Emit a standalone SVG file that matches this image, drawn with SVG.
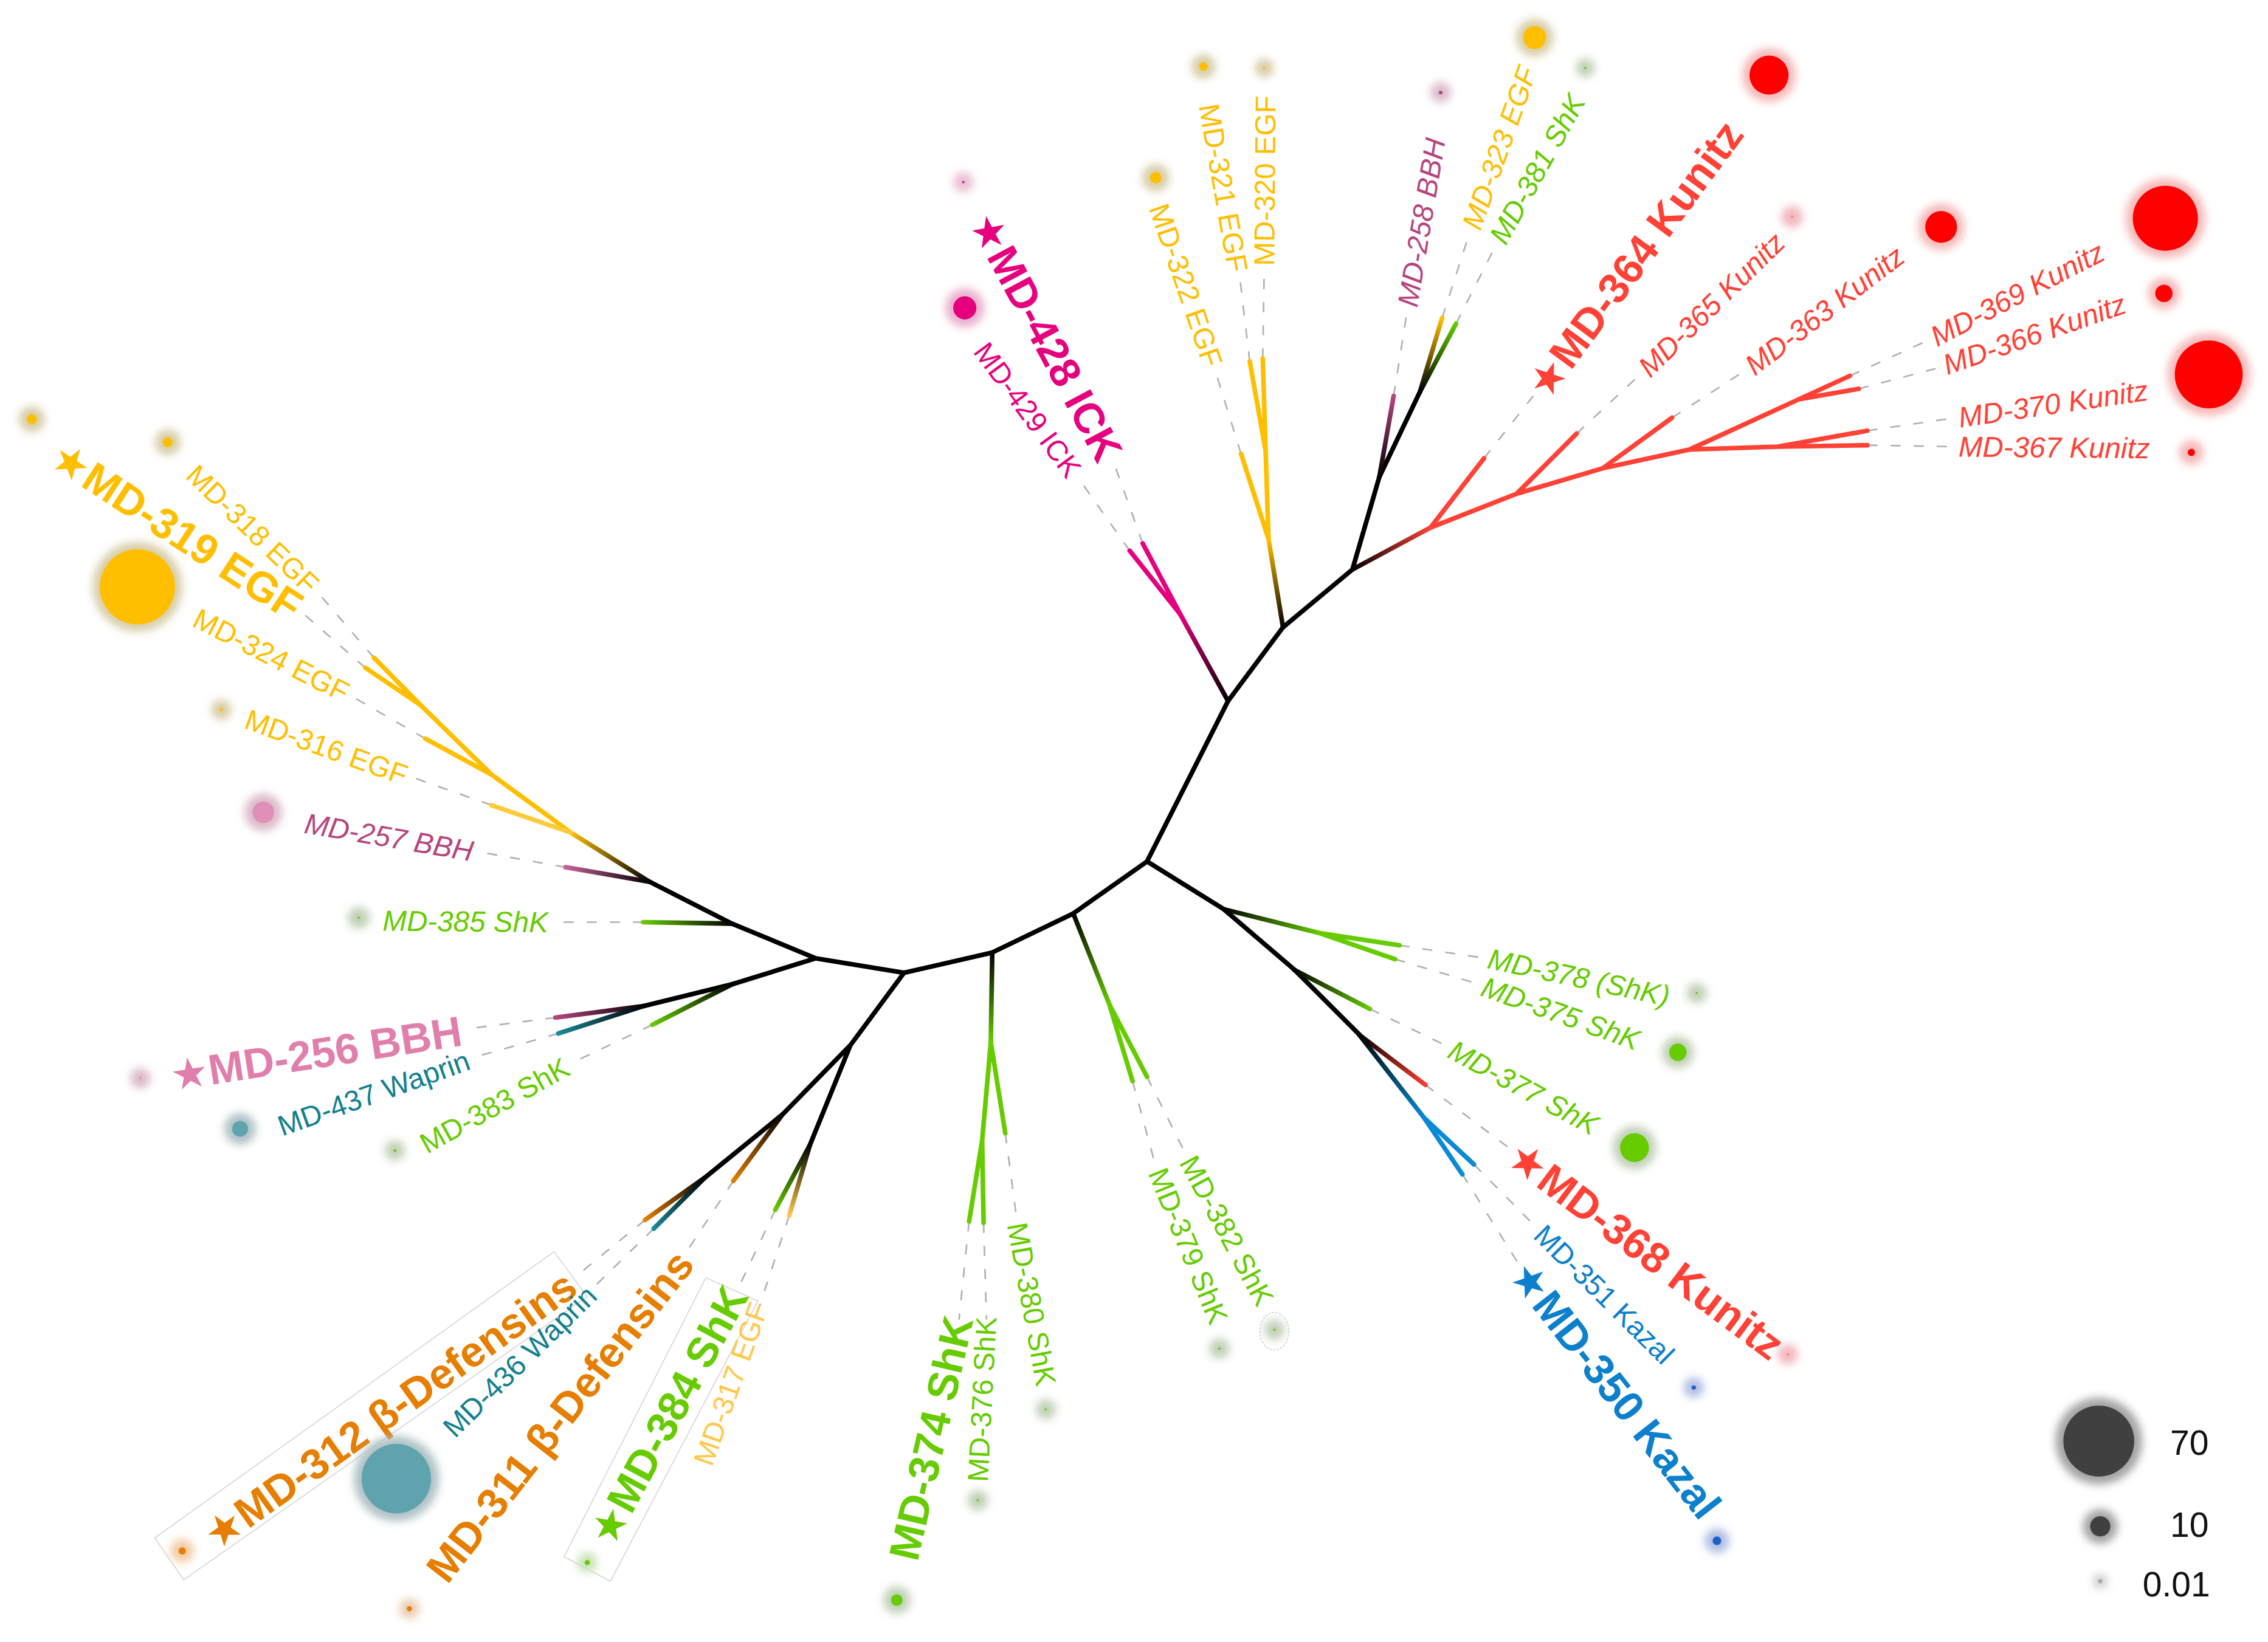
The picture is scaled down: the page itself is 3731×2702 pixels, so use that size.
<svg xmlns="http://www.w3.org/2000/svg" width="3731" height="2702" viewBox="0 0 3731 2702">
<defs>
<style>
.lbl{font-family:"Liberation Sans","DejaVu Sans",sans-serif;font-size:20px;dominant-baseline:central}
.it{font-style:italic}
.bd{font-weight:bold;font-size:29.5px}
.e{text-anchor:end}
.egf{fill:#FFBF00}
.egf2{fill:#FFC84A}
.shk{fill:#66CC00}
.kun{fill:#FF4136}
.ick{fill:#E6007E}
.bbh{fill:#B5457F}
.bbh2{fill:#E07FAB}
.wap{fill:#13808F}
.def{fill:#E67E00}
.kaz{fill:#0C80CC}
.br{fill:none;stroke-width:3.2;stroke-linecap:round;stroke-linejoin:round}
.ld{fill:none;stroke:#b0b0b0;stroke-width:1.1;stroke-dasharray:7 9}
.halo{filter:url(#soft);opacity:0.9}
.box{fill:#fff;stroke:#d6d6d6;stroke-width:0.7}
.lg{font-family:"Liberation Sans","DejaVu Sans",sans-serif;font-size:24px;fill:#111;text-anchor:end;dominant-baseline:central}
</style>
<filter id="soft" x="-80%" y="-80%" width="260%" height="260%"><feGaussianBlur stdDeviation="2.8"/></filter>
<linearGradient id="g_ick" gradientUnits="userSpaceOnUse" x1="849" y1="485" x2="816" y2="425"><stop offset="0" stop-color="#000"/><stop offset="1" stop-color="#E6007E"/></linearGradient>
<linearGradient id="g_egfT" gradientUnits="userSpaceOnUse" x1="887" y1="434" x2="877" y2="373"><stop offset="0" stop-color="#000"/><stop offset="1" stop-color="#FFBF00"/></linearGradient>
<linearGradient id="g_258" gradientUnits="userSpaceOnUse" x1="953.6" y1="330" x2="963.5" y2="274"><stop offset="0" stop-color="#000"/><stop offset="1" stop-color="#B5457F"/></linearGradient>
<linearGradient id="g_323" gradientUnits="userSpaceOnUse" x1="981.7" y1="271" x2="997" y2="220"><stop offset="0" stop-color="#000"/><stop offset="1" stop-color="#FFBF00"/></linearGradient>
<linearGradient id="g_381" gradientUnits="userSpaceOnUse" x1="981.7" y1="271" x2="1006.6" y2="224"><stop offset="0" stop-color="#000"/><stop offset="1" stop-color="#66CC00"/></linearGradient>
<linearGradient id="g_kun" gradientUnits="userSpaceOnUse" x1="935" y1="394" x2="989" y2="365"><stop offset="0" stop-color="#000"/><stop offset="1" stop-color="#FF4136"/></linearGradient>
<linearGradient id="g_egfL" gradientUnits="userSpaceOnUse" x1="449" y1="610" x2="394.6" y2="576"><stop offset="0" stop-color="#000"/><stop offset="1" stop-color="#FFBF00"/></linearGradient>
<linearGradient id="g_257" gradientUnits="userSpaceOnUse" x1="449" y1="610" x2="391" y2="600"><stop offset="0" stop-color="#000"/><stop offset="1" stop-color="#C8609A"/></linearGradient>
<linearGradient id="g_385" gradientUnits="userSpaceOnUse" x1="506" y1="639" x2="444.6" y2="638"><stop offset="0" stop-color="#000"/><stop offset="1" stop-color="#66CC00"/></linearGradient>
<linearGradient id="g_383" gradientUnits="userSpaceOnUse" x1="506" y1="681" x2="451" y2="709"><stop offset="0" stop-color="#000"/><stop offset="1" stop-color="#66CC00"/></linearGradient>
<linearGradient id="g_256" gradientUnits="userSpaceOnUse" x1="445" y1="696" x2="384" y2="704"><stop offset="0" stop-color="#000"/><stop offset="1" stop-color="#B5457F"/></linearGradient>
<linearGradient id="g_437" gradientUnits="userSpaceOnUse" x1="445" y1="696" x2="386" y2="715"><stop offset="0" stop-color="#000"/><stop offset="1" stop-color="#1A8A99"/></linearGradient>
<linearGradient id="g_311" gradientUnits="userSpaceOnUse" x1="541" y1="771" x2="507" y2="817"><stop offset="0" stop-color="#000"/><stop offset="1" stop-color="#E67E00"/></linearGradient>
<linearGradient id="g_312" gradientUnits="userSpaceOnUse" x1="487" y1="815" x2="446" y2="844"><stop offset="0" stop-color="#000"/><stop offset="1" stop-color="#E67E00"/></linearGradient>
<linearGradient id="g_436" gradientUnits="userSpaceOnUse" x1="487" y1="815" x2="452" y2="850"><stop offset="0" stop-color="#000"/><stop offset="1" stop-color="#1A8A99"/></linearGradient>
<linearGradient id="g_384" gradientUnits="userSpaceOnUse" x1="560" y1="792" x2="536" y2="837"><stop offset="0" stop-color="#000"/><stop offset="1" stop-color="#66CC00"/></linearGradient>
<linearGradient id="g_317" gradientUnits="userSpaceOnUse" x1="560" y1="792" x2="545.6" y2="841"><stop offset="0" stop-color="#000"/><stop offset="1" stop-color="#FFC84A"/></linearGradient>
<linearGradient id="g_EG" gradientUnits="userSpaceOnUse" x1="742" y1="632" x2="767" y2="695"><stop offset="0" stop-color="#000"/><stop offset="1" stop-color="#66CC00"/></linearGradient>
<linearGradient id="g_FG" gradientUnits="userSpaceOnUse" x1="686" y1="659" x2="685" y2="721"><stop offset="0" stop-color="#000"/><stop offset="1" stop-color="#66CC00"/></linearGradient>
<linearGradient id="g_KG" gradientUnits="userSpaceOnUse" x1="846" y1="629" x2="912.5" y2="645.6"><stop offset="0" stop-color="#000"/><stop offset="1" stop-color="#66CC00"/></linearGradient>
<linearGradient id="g_377" gradientUnits="userSpaceOnUse" x1="894.7" y1="671" x2="947" y2="698"><stop offset="0" stop-color="#000"/><stop offset="1" stop-color="#66CC00"/></linearGradient>
<linearGradient id="g_368" gradientUnits="userSpaceOnUse" x1="939.8" y1="716" x2="985.5" y2="750.6"><stop offset="0" stop-color="#000"/><stop offset="1" stop-color="#FF3B30"/></linearGradient>
<linearGradient id="g_blue" gradientUnits="userSpaceOnUse" x1="939.8" y1="716" x2="984.6" y2="773.4"><stop offset="0" stop-color="#000"/><stop offset="1" stop-color="#0A8AD6"/></linearGradient>
</defs>
<rect width="3731" height="2702" fill="#fff"/>
<g transform="scale(2.3795 2.3785)">
<g id="connectors">
<path class="ld" d="M781 381L745 330M790 376L770 320M858 314L840 256M864 250L857 191M873 248L874 187M963.5 274L973 214M997 220L1016 161M1006.6 224L1034 170M1026 317L1060 274M1090 300L1134 259M1156 289L1207 256M1279 260L1334 235M1285 269L1342 254M1291 298L1352 289M1291 308L1352 309M967.5 654L1027 663M964.5 663.6L1023 681M947 698L1001 724M985.5 750.6L1043 794M1019 805.6L1062 849M1011 812.4L1049 873M793 745L820 799M783 748L799 807M695 784L703 844M680 846L682 913M670 845L663 913M545.6 841L525 904M536 837L511 890M507 817L474 867M452 850L410 891M446 844L397 884M451 709L394 736M386 715L326 732M384 704L321 712M444.6 638L381 638M391 600L329 589M339.6 557L283 537M294 511L242 481M258.5 455L219 409M252.6 462L208 423"/>
<path class="br" stroke="#000" d="M793 596L849 485L887 434L935 394M793 596L846 629L895 671L940 716M793 596L742 632L686 659L625 673L564 663L506 639L449 610M564 663L506 681L445 696M625 673L588 723L541 771L487 815M588 723L560 792M935 394L953.6 330L981.7 271"/>
<line class="br" stroke="url(#g_ick)" x1="849" y1="485" x2="816" y2="425"/>
<path class="br" stroke="#E6007E" d="M816 425L781 381M816 425L790 376"/>
<line class="br" stroke="url(#g_egfT)" x1="887" y1="434" x2="877" y2="373"/>
<path class="br" stroke="#FFBF00" d="M877 373L858 314M877 373L875 312L873 248M875 312L864 250"/>
<line class="br" stroke="url(#g_258)" x1="953.6" y1="330" x2="963.5" y2="274"/>
<line class="br" stroke="url(#g_323)" x1="981.7" y1="271" x2="997" y2="220"/>
<line class="br" stroke="url(#g_381)" x1="981.7" y1="271" x2="1006.6" y2="224"/>
<line class="br" stroke="url(#g_kun)" x1="935" y1="394" x2="989" y2="365"/>
<path class="br" stroke="#FF4136" d="M989 365L1026 317M989 365L1048.5 341.6L1090 300M1048.5 341.6L1108 324L1156 289M1108 324L1168 311L1279 260M1245 276L1285 269M1168 311L1229 309L1291 308M1229 309L1291 298"/>
<line class="br" stroke="url(#g_egfL)" x1="449" y1="610" x2="394.6" y2="576"/>
<path class="br" stroke="#FFBF00" d="M394.6 576L340 536L291 488L258.5 455M291 488L252.6 462M340 536L294 511"/>
<path class="br" stroke="#FFCB3A" d="M394.6 576L339.6 557"/>
<line class="br" stroke="url(#g_257)" x1="449" y1="610" x2="391" y2="600"/>
<line class="br" stroke="url(#g_385)" x1="506" y1="639" x2="444.6" y2="638"/>
<line class="br" stroke="url(#g_383)" x1="506" y1="681" x2="451" y2="709"/>
<line class="br" stroke="url(#g_256)" x1="445" y1="696" x2="384" y2="704"/>
<line class="br" stroke="url(#g_437)" x1="445" y1="696" x2="386" y2="715"/>
<line class="br" stroke="url(#g_311)" x1="541" y1="771" x2="507" y2="817"/>
<line class="br" stroke="url(#g_312)" x1="487" y1="815" x2="446" y2="844"/>
<line class="br" stroke="url(#g_436)" x1="487" y1="815" x2="452" y2="850"/>
<line class="br" stroke="url(#g_384)" x1="560" y1="792" x2="536" y2="837"/>
<line class="br" stroke="url(#g_317)" x1="560" y1="792" x2="545.6" y2="841"/>
<line class="br" stroke="url(#g_EG)" x1="742" y1="632" x2="767" y2="695"/>
<path class="br" stroke="#66CC00" d="M767 695L783 748M767 695L793 745"/>
<line class="br" stroke="url(#g_FG)" x1="686" y1="659" x2="685" y2="721"/>
<path class="br" stroke="#66CC00" d="M685 721L679 789L670 845M679 789L680 846M685 721L695 784"/>
<line class="br" stroke="url(#g_KG)" x1="846" y1="629" x2="912.5" y2="645.6"/>
<path class="br" stroke="#66CC00" d="M912.5 645.6L967.5 654M912.5 645.6L964.5 663.6"/>
<line class="br" stroke="url(#g_377)" x1="894.7" y1="671" x2="947" y2="698"/>
<line class="br" stroke="url(#g_368)" x1="939.8" y1="716" x2="985.5" y2="750.6"/>
<line class="br" stroke="url(#g_blue)" x1="939.8" y1="716" x2="984.6" y2="773.4"/>
<path class="br" stroke="#0A8AD6" d="M984.6 773.4L1019 805.6M984.6 773.4L1011 812.4"/>
</g>

<g id="n-md319"><circle class="halo" cx="22" cy="290" r="9" fill="#D4C9A0"/><circle cx="22" cy="290" r="3.5" fill="#FFBF00"/><text class="lbl bd egf e" transform="translate(206 422) rotate(33.1)">★MD-319 EGF</text></g>
<g id="n-md318"><circle class="halo" cx="116" cy="306" r="9" fill="#D4C9A0"/><circle cx="116" cy="306" r="3.5" fill="#FFBF00"/><text class="lbl egf e" transform="translate(217 407) rotate(44)">MD-318 EGF</text></g>
<g id="n-md324"><circle class="halo" cx="95" cy="406" r="31" fill="#D4C9A0"/><circle cx="95" cy="406" r="26" fill="#FFBF00"/><text class="lbl egf e" transform="translate(240 480) rotate(27)">MD-324 EGF</text></g>
<g id="n-md316"><circle class="halo" cx="153" cy="491" r="7" fill="#D4C9A0"/><circle cx="153" cy="491" r="1.2" fill="#FFBF00"/><text class="lbl egf e" transform="translate(281 537) rotate(19.9)">MD-316 EGF</text></g>
<g id="n-md257"><circle class="halo" cx="182" cy="562" r="13" fill="#D8B4C6"/><circle cx="182" cy="562" r="7.5" fill="#E090B8"/><text class="lbl it bbh e" transform="translate(327 589) rotate(9.6)">MD-257 BBH</text></g>
<g id="n-md385"><circle class="halo" cx="248" cy="635" r="7.5" fill="#BCCCB0"/><circle cx="248" cy="635" r="0.8" fill="#66CC00"/><text class="lbl it shk e" transform="translate(379 638) rotate(0.5)">MD-385 ShK</text></g>
<g id="n-md256"><circle class="halo" cx="97" cy="746" r="7" fill="#D8B4C6"/><circle cx="97" cy="746" r="0.8" fill="#E090B8"/><text class="lbl bd bbh2 e" transform="translate(319 713) rotate(-8.9)">★MD-256 BBH</text></g>
<g id="n-md437"><circle class="halo" cx="166" cy="781" r="11" fill="#A8BCC0"/><circle cx="166" cy="781" r="5.5" fill="#5FA3AF"/><text class="lbl wap e" transform="translate(324 733) rotate(-19.6)">MD-437 Waprin</text></g>
<g id="n-md383"><circle class="halo" cx="273" cy="796" r="7" fill="#BCCCB0"/><circle cx="273" cy="796" r="1" fill="#66CC00"/><text class="lbl shk e" transform="translate(392 737) rotate(-29)">MD-383 ShK</text></g>
<g id="n-md312"><polygon class="box" points="107,1064 383,866 406,897 127,1093"/><circle class="halo" cx="126" cy="1073" r="8" fill="#F0C59A"/><circle cx="126" cy="1073" r="2.5" fill="#E67E00"/><text class="lbl bd def e" transform="translate(395 886) rotate(-35.5)">★MD-312 β-Defensins</text></g>
<g id="n-md436"><circle class="halo" cx="274" cy="1023" r="29.5" fill="#A8BCC0"/><circle cx="274" cy="1023" r="24" fill="#5FA3AF"/><text class="lbl wap e" transform="translate(409 893) rotate(-44.5)">MD-436 Waprin</text></g>
<g id="n-md311"><circle class="halo" cx="283" cy="1113" r="7" fill="#E8C8A8"/><circle cx="283" cy="1113" r="1.8" fill="#E67E00"/><text class="lbl bd def e" transform="translate(473 869) rotate(-52.2)">MD-311 β-Defensins</text></g>
<g id="n-md384"><polygon class="box" points="390,1077 488,884 524,900 422,1094"/><circle class="halo" cx="406" cy="1081" r="7" fill="#C4E0B0"/><circle cx="406" cy="1081" r="1.8" fill="#66CC00"/><text class="lbl bd shk e" transform="translate(509 892) rotate(-61.7)">★MD-384 ShK</text></g>
<g id="n-md317"><text class="lbl egf2 e" transform="translate(525 902) rotate(-70.5)">MD-317 EGF</text></g>
<g id="n-md374"><circle class="halo" cx="620" cy="1107" r="9.5" fill="#BCCCB0"/><circle cx="620" cy="1107" r="4" fill="#66CC00"/><text class="lbl bd shk e" transform="translate(663 911) rotate(-77)">MD-374 ShK</text></g>
<g id="n-md376"><circle class="halo" cx="676" cy="1038" r="7" fill="#BCCCB0"/><circle cx="676" cy="1038" r="0.8" fill="#66CC00"/><text class="lbl shk e" transform="translate(682 911) rotate(-87)">MD-376 ShK</text></g>
<g id="n-md380"><circle class="halo" cx="723" cy="975" r="7" fill="#BCCCB0"/><circle cx="723" cy="975" r="0.8" fill="#66CC00"/><text class="lbl shk" transform="translate(703 846) rotate(79.7)">MD-380 ShK</text></g>
<g id="n-md379"><circle class="halo" cx="843" cy="933" r="7" fill="#BCCCB0"/><circle cx="843" cy="933" r="0.8" fill="#66CC00"/><text class="lbl shk" transform="translate(800 809) rotate(67.9)">MD-379 ShK</text></g>
<g id="n-md382"><ellipse cx="881" cy="921" rx="10" ry="13" fill="none" stroke="#d0d0d0" stroke-width="0.7" stroke-dasharray="1.5 1"/><circle class="halo" cx="881" cy="920" r="7" fill="#BCCCB0"/><circle cx="881" cy="920" r="0.8" fill="#66CC00"/><text class="lbl shk" transform="translate(821 801) rotate(61.7)">MD-382 ShK</text></g>
<g id="n-md350"><circle class="halo" cx="1187" cy="1066" r="8.5" fill="#A8B8E0"/><circle cx="1187" cy="1066" r="3" fill="#1F5FC8"/><text class="lbl bd kaz" transform="translate(1050 876) rotate(52)">★MD-350 Kazal</text></g>
<g id="n-md351"><circle class="halo" cx="1171" cy="960" r="7" fill="#A8B8E0"/><circle cx="1171" cy="960" r="1.5" fill="#1F5FC8"/><text class="lbl kaz" transform="translate(1064 851) rotate(44.7)">MD-351 Kazal</text></g>
<g id="n-md368"><circle class="halo" cx="1236" cy="937" r="7" fill="#F0B0B8"/><circle cx="1236" cy="937" r="0.8" fill="#FF8080"/><text class="lbl bd kun" transform="translate(1046 796) rotate(36.9)">★MD-368 Kunitz</text></g>
<g id="n-md377"><circle class="halo" cx="1130" cy="794" r="15" fill="#BCCCB0"/><circle cx="1130" cy="794" r="10" fill="#66CC00"/><text class="lbl it shk" transform="translate(1003 725) rotate(28.6)">MD-377 ShK</text></g>
<g id="n-md375"><circle class="halo" cx="1160" cy="728" r="11" fill="#BCCCB0"/><circle cx="1160" cy="728" r="6" fill="#66CC00"/><text class="lbl it shk" transform="translate(1025 682) rotate(19.5)">MD-375 ShK</text></g>
<g id="n-md378"><circle class="halo" cx="1173" cy="687" r="7" fill="#BCCCB0"/><circle cx="1173" cy="687" r="0.8" fill="#66CC00"/><text class="lbl it shk" transform="translate(1029 663) rotate(11.9)">MD-378 (ShK)</text></g>
<g id="n-md367"><circle class="halo" cx="1515" cy="313" r="8.5" fill="#F5B0B0"/><circle cx="1515" cy="313" r="2.5" fill="#FF0000"/><text class="lbl it kun" transform="translate(1354 309) rotate(0.5)">MD-367 Kunitz</text></g>
<g id="n-md370"><circle class="halo" cx="1527" cy="259" r="28.5" fill="#F5B0B0"/><circle cx="1527" cy="259" r="23.5" fill="#FF0000"/><text class="lbl it kun" transform="translate(1354 289) rotate(-8.3)">MD-370 Kunitz</text></g>
<g id="n-md366"><circle class="halo" cx="1496" cy="203" r="11" fill="#F5B0B0"/><circle cx="1496" cy="203" r="6" fill="#FF0000"/><text class="lbl it kun" transform="translate(1344 253) rotate(-19.2)">MD-366 Kunitz</text></g>
<g id="n-md369"><circle class="halo" cx="1497" cy="151" r="27.5" fill="#F5B0B0"/><circle cx="1497" cy="151" r="22.5" fill="#FF0000"/><text class="lbl it kun" transform="translate(1336 234) rotate(-27.5)">MD-369 Kunitz</text></g>
<g id="n-md363"><circle class="halo" cx="1342" cy="157" r="16" fill="#F5B0B0"/><circle cx="1342" cy="157" r="11" fill="#FF0000"/><text class="lbl it kun" transform="translate(1209 255) rotate(-37.4)">MD-363 Kunitz</text></g>
<g id="n-md365"><circle class="halo" cx="1239" cy="150" r="7.5" fill="#F0B0B8"/><circle cx="1239" cy="150" r="0.8" fill="#FF8080"/><text class="lbl it kun" transform="translate(1136 257) rotate(-44.4)">MD-365 Kunitz</text></g>
<g id="n-md364"><circle class="halo" cx="1223" cy="52" r="18.5" fill="#F5B0B0"/><circle cx="1223" cy="52" r="13.5" fill="#FF0000"/><text class="lbl bd kun" transform="translate(1062 272) rotate(-53.6)">★MD-364 Kunitz</text></g>
<g id="n-md381"><circle class="halo" cx="1096" cy="47" r="6.5" fill="#BCCCB0"/><circle cx="1096" cy="47" r="0.8" fill="#66CC00"/><text class="lbl it shk" transform="translate(1035 167) rotate(-61)">MD-381 ShK</text></g>
<g id="n-md323"><circle class="halo" cx="1061" cy="26" r="13" fill="#D4C9A0"/><circle cx="1061" cy="26" r="8" fill="#FFBF00"/><text class="lbl it egf" transform="translate(1017 158) rotate(-70.5)">MD-323 EGF</text></g>
<g id="n-md258"><circle class="halo" cx="996" cy="64" r="7" fill="#D8B4C6"/><circle cx="996" cy="64" r="1.3" fill="#B5457F"/><text class="lbl it bbh" transform="translate(973 212) rotate(-80.5)">MD-258 BBH</text></g>
<g id="n-md320"><circle class="halo" cx="874" cy="47" r="6.5" fill="#D4C9A0"/><circle cx="874" cy="47" r="0.8" fill="#FFBF00"/><text class="lbl egf" transform="translate(874 184) rotate(-89.5)">MD-320 EGF</text></g>
<g id="n-md321"><circle class="halo" cx="832" cy="46" r="8.5" fill="#D4C9A0"/><circle cx="832" cy="46" r="3" fill="#FFBF00"/><text class="lbl egf e" transform="translate(856 188) rotate(80)">MD-321 EGF</text></g>
<g id="n-md322"><circle class="halo" cx="799" cy="123" r="9.5" fill="#D4C9A0"/><circle cx="799" cy="123" r="4" fill="#FFBF00"/><text class="lbl egf e" transform="translate(839 253) rotate(71)">MD-322 EGF</text></g>
<g id="n-md428"><circle class="halo" cx="667" cy="213" r="13.5" fill="#E8A8C8"/><circle cx="667" cy="213" r="8" fill="#E6007E"/><text class="lbl bd ick e" transform="translate(768 317) rotate(61.9)">★MD-428 ICK</text></g>
<g id="n-md429"><circle class="halo" cx="666" cy="126" r="7" fill="#E8B8D0"/><circle cx="666" cy="126" r="0.8" fill="#E6007E"/><text class="lbl ick e" transform="translate(743 328) rotate(53.7)">MD-429 ICK</text></g>

<g id="legend">
<circle class="halo" cx="1451" cy="997" r="30" fill="#9a9a9a"/><circle cx="1451" cy="997" r="24.5" fill="#404040"/>
<circle class="halo" cx="1452" cy="1056" r="12" fill="#9a9a9a"/><circle cx="1452" cy="1056" r="7" fill="#404040"/>
<circle class="halo" cx="1452" cy="1094" r="5" fill="#c8c8c8"/><circle cx="1452" cy="1094" r="1.5" fill="#aaaaaa"/>
<text class="lg" x="1527" y="998">70</text>
<text class="lg" x="1527" y="1055">10</text>
<text class="lg" x="1528" y="1096">0.01</text>
</g>
</g>
</svg>
